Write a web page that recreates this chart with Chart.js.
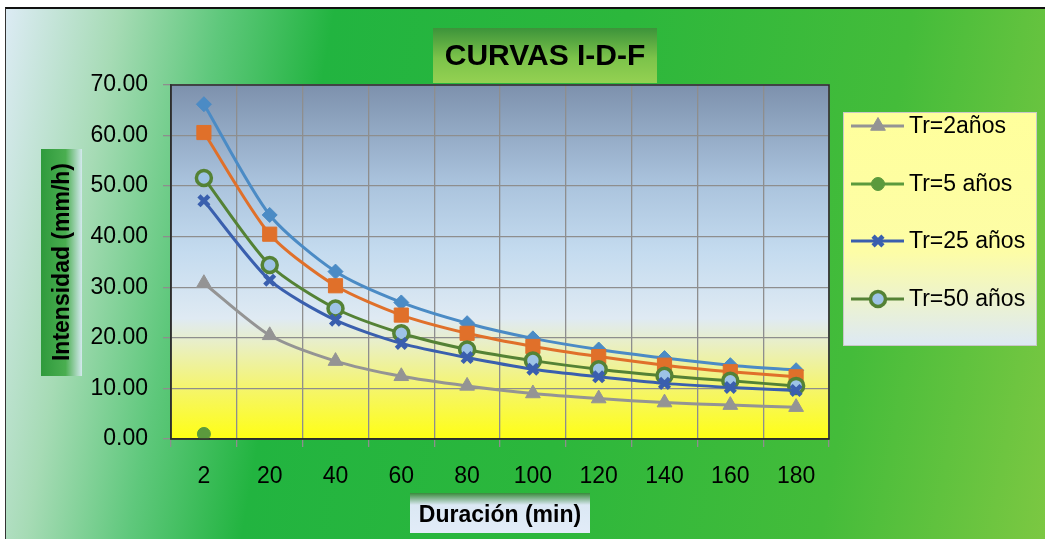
<!DOCTYPE html>
<html>
<head>
<meta charset="utf-8">
<title>CURVAS I-D-F</title>
<script src="https://cdn.jsdelivr.net/npm/chart.js@4.4.0/dist/chart.umd.min.js"></script>
<style>
  html, body { margin: 0; padding: 0; background: #fff; width: 1045px; height: 539px; overflow: hidden; }
  #bg {
    position: absolute; left: 5px; top: 7px; width: 1040px; height: 532px;
    border-top: 2px solid #111; border-left: 1px solid #333;
    background: linear-gradient(100deg, #dcebf4 0%, #a6dbb5 10%, #5fc87c 19%, #22b440 29%, #2cb73c 55%, #44bc3a 80%, #7cc842 100%);
  }
  #wrap { position: absolute; left: 0; top: 0; width: 1045px; height: 539px; }
</style>
</head>
<body>
<div id="bg"></div>
<div id="wrap"><canvas id="idfChart"></canvas></div>
<script>
// datos
const durations = ['2', '20', '40', '60', '80', '100', '120', '140', '160', '180'];
const tr2  = [30.8, 20.5, 15.4, 12.4, 10.5, 9.0, 8.0, 7.2, 6.7, 6.3];
const tr5  = [1.0, null, null, null, null, null, null, null, null, null];
const tr25 = [47.1, 31.4, 23.5, 18.9, 16.1, 13.8, 12.3, 11.0, 10.2, 9.6];
const tr50 = [51.6, 34.4, 25.8, 20.9, 17.7, 15.5, 13.8, 12.5, 11.5, 10.5];
const trA  = [60.6, 40.5, 30.3, 24.5, 20.9, 18.3, 16.3, 14.6, 13.3, 12.3];
const trB  = [66.2, 44.3, 33.1, 27.0, 22.9, 19.9, 17.7, 16.0, 14.6, 13.6];
const yMin = 0, yMax = 70, yStep = 10;

const FONT = "'Liberation Sans', Arial, sans-serif";

const series = [
  { label: 'Tr=2años',   data: tr2,  color: '#949494', fill: '#949494', style: 'triangle', r: 8.5, bw: 1, legend: true },
  { label: 'Tr=5 años',  data: tr5,  color: '#5b9a3d', fill: '#5b9a3d', style: 'circle',   r: 6.5, bw: 1, legend: true },
  { label: 'Tr=25 años', data: tr25, color: '#3a5fae', fill: '#3a5fae', style: 'crossRot', r: 7,  bw: 4.5, legend: true },
  { label: 'Tr=50 años', data: tr50, color: '#548235', fill: '#9dc3e6', style: 'circle',   r: 7.5, bw: 3.5, legend: true },
  { label: '',           data: trA,  color: '#e0702a', fill: '#e0702a', style: 'rect',     r: 10, bw: 1, legend: false },
  { label: '',           data: trB,  color: '#4b8bc5', fill: '#4b8bc5', style: 'rectRot',  r: 7.5, bw: 1, legend: false }
];

// fondo del area de trazado, marcos, titulos y leyenda
const decor = {
  id: 'decor',
  beforeDraw(chart) {
    const { ctx, chartArea: a } = chart;
    const g = ctx.createLinearGradient(0, a.top, 0, a.bottom);
    g.addColorStop(0, '#7d91ad');
    g.addColorStop(0.27, '#a9c2dc');
    g.addColorStop(0.47, '#c4dbef');
    g.addColorStop(0.66, '#dfeaf3');
    g.addColorStop(0.73, '#e9efc6');
    g.addColorStop(0.86, '#f5f56a');
    g.addColorStop(1, '#ffff14');
    ctx.save();
    ctx.fillStyle = g;
    ctx.fillRect(a.left, a.top, a.right - a.left, a.bottom - a.top);
    ctx.restore();
  },
  afterDraw(chart) {
    const { ctx, chartArea: a } = chart;
    ctx.save();
    ctx.strokeStyle = '#2a2a2a';
    ctx.lineWidth = 1.5;
    ctx.strokeRect(a.left, a.top, a.right - a.left, a.bottom - a.top);

    // titulo
    let g = ctx.createLinearGradient(0, 28, 0, 83);
    g.addColorStop(0, '#3c933a');
    g.addColorStop(0.55, '#7cc34a');
    g.addColorStop(1, '#94d152');
    ctx.fillStyle = g;
    ctx.fillRect(433, 28, 224, 55);
    ctx.fillStyle = '#000';
    ctx.font = "bold 30px " + FONT;
    ctx.textAlign = 'center';
    ctx.textBaseline = 'middle';
    ctx.fillText('CURVAS I-D-F', 545, 57);

    // titulo eje Y
    g = ctx.createLinearGradient(41, 0, 82, 0);
    g.addColorStop(0, '#2f9a3c');
    g.addColorStop(0.6, '#4aae50');
    g.addColorStop(1, '#d4e9ee');
    ctx.fillStyle = g;
    ctx.fillRect(41, 149, 41, 227);
    ctx.save();
    ctx.translate(63, 262);
    ctx.rotate(-Math.PI / 2);
    ctx.fillStyle = '#000';
    ctx.font = "bold 23px " + FONT;
    ctx.fillText('Intensidad (mm/h)', 0, 0);
    ctx.restore();

    // titulo eje X
    g = ctx.createLinearGradient(0, 493, 0, 533);
    g.addColorStop(0, '#3a8a3c');
    g.addColorStop(0.3, '#dbe8f4');
    g.addColorStop(1, '#e2ecf8');
    ctx.fillStyle = g;
    ctx.fillRect(410, 493, 180, 40);
    ctx.fillStyle = '#000';
    ctx.font = "bold 23px " + FONT;
    ctx.fillText('Duración (min)', 500, 516);

    // leyenda
    g = ctx.createLinearGradient(0, 112, 0, 345);
    g.addColorStop(0, '#ffff9c');
    g.addColorStop(0.6, '#fdfda6');
    g.addColorStop(1, '#dde9f4');
    ctx.fillStyle = g;
    ctx.fillRect(843, 112, 193, 233);
    ctx.strokeStyle = '#c8c8c8';
    ctx.lineWidth = 1;
    ctx.strokeRect(843.5, 112.5, 193, 233);
    const rows = [126, 184, 241, 299];
    let k = 0;
    series.filter(s => s.legend).forEach(s => {
      const y = rows[k++];
      ctx.strokeStyle = s.color;
      ctx.lineWidth = 3;
      ctx.beginPath();
      ctx.moveTo(851, y);
      ctx.lineTo(904, y);
      ctx.stroke();
      ctx.fillStyle = s.fill;
      ctx.strokeStyle = s.color;
      ctx.lineWidth = s.bw;
      Chart.helpers.drawPoint(ctx, { pointStyle: s.style, radius: s.r, borderWidth: s.bw, rotation: 0 }, 878, y);
      ctx.fillStyle = '#000';
      ctx.font = "23px " + FONT;
      ctx.textAlign = 'left';
      ctx.textBaseline = 'middle';
      ctx.fillText(s.label, 909, y + 1);
    });
    ctx.restore();
  }
};

document.addEventListener('DOMContentLoaded', function () {
  const ctx = document.getElementById('idfChart').getContext('2d');
  new Chart(ctx, {
    type: 'line',
    data: {
      labels: durations,
      datasets: series.map(s => ({
        label: s.label,
        data: s.data,
        borderColor: s.color,
        backgroundColor: s.fill,
        pointBackgroundColor: s.fill,
        pointBorderColor: s.color,
        pointStyle: s.style,
        pointRadius: s.r,
        pointBorderWidth: s.bw,
        borderWidth: 3,
        tension: 0.25,
        fill: false,
        spanGaps: false
      }))
    },
    options: {
      responsive: true,
      maintainAspectRatio: false,
      animation: false,
      layout: { padding: { top: 85, right: 216, left: 0, bottom: 0 } },
      plugins: {
        legend: { display: false },
        title: { display: false },
        tooltip: { enabled: false }
      },
      scales: {
        x: {
          offset: true,
          grid: { offset: true, color: '#8e8e8e', lineWidth: 1.3, tickLength: 8, tickColor: '#8e8e8e' },
          border: { color: '#3a3a3a', width: 1.5 },
          ticks: { color: '#000', font: { family: FONT, size: 23 }, padding: 16, maxRotation: 0 },
          afterFit(s) { s.height = 100; }
        },
        y: {
          min: yMin, max: yMax,
          grid: { color: '#8e8e8e', lineWidth: 1.3, tickLength: 8, tickColor: '#8e8e8e' },
          border: { color: '#3a3a3a', width: 1.5 },
          ticks: {
            stepSize: yStep, color: '#000', font: { family: FONT, size: 23 }, padding: 15,
            callback: v => v.toFixed(2)
          },
          afterFit(s) { s.width = 171; }
        }
      }
    },
    plugins: [decor]
  });
});
</script>
</body>
</html>
